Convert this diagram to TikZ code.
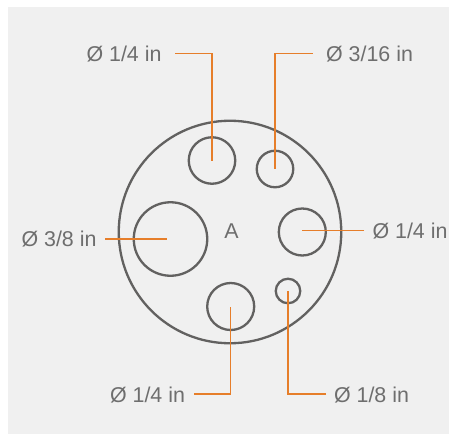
\documentclass[tikz,border=0pt]{standalone}
\usepackage{fontspec}
\setmainfont{Liberation Sans}
\definecolor{panel}{HTML}{F0F0F0}
\definecolor{ringc}{HTML}{626160}
\definecolor{leader}{HTML}{E67E2A}
\definecolor{labelc}{HTML}{6E6E6E}
\tikzset{
  hole/.style={circle,draw=ringc,line width=2.3pt,inner sep=0pt,minimum size=#1},
  lab/.style={text=labelc,font=\fontsize{21.4}{25}\selectfont,inner sep=0pt,anchor=base},
  lead/.style={draw=leader,line width=1.5pt,line join=miter}
}
\begin{document}
\begin{tikzpicture}[x=1pt,y=-1pt]
\useasboundingbox (0,0) rectangle (449,434);
\fill[panel] (8,7) rectangle (449,434);
\node[hole=222.5pt] (disc) at (230,232) {};
\node[hole=46.5pt] (h1) at (212,160.5) {};
\node[hole=36.5pt] (h2) at (275,169) {};
\node[hole=73.5pt] (h3) at (170.5,239) {};
\node[hole=47pt] (h4) at (302.3,232) {};
\node[hole=47pt] (h5) at (230.7,306.5) {};
\node[hole=24.5pt] (h6) at (288,291) {};
\node[lab] (A) at (231.5,238.5) {A};
\node[lab] (l1) at (124,61) {Ø 1/4 in};
\node[lab] (l2) at (369.5,61) {Ø 3/16 in};
\node[lab] (l3) at (59,246.5) {Ø 3/8 in};
\node[lab] (l4) at (410,238.5) {Ø 1/4 in};
\node[lab] (l5) at (147.5,402) {Ø 1/4 in};
\node[lab] (l6) at (371.5,402) {Ø 1/8 in};
\coordinate (e1) at (175,53.3);
\coordinate (e2) at (312.5,53.3);
\coordinate (e3) at (105,239);
\coordinate (e4) at (364,230.7);
\coordinate (e5) at (194,394);
\coordinate (e6) at (326,394);
\draw[lead] (e1) -| (h1.center);
\draw[lead] (e2) -| (h2.center);
\draw[lead] (e3) -- (167,239);
\draw[lead] (e4) -- (302,230.7);
\draw[lead] (e5) -| (h5.center);
\draw[lead] (e6) -| (h6.center);
\end{tikzpicture}
\end{document}
